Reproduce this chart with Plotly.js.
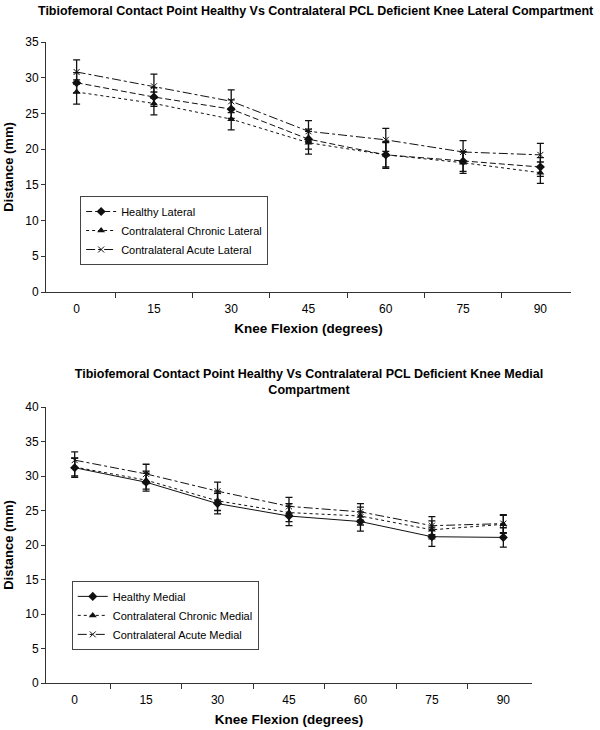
<!DOCTYPE html>
<html>
<head>
<meta charset="utf-8">
<script src="https://cdn.plot.ly/plotly-3.0.1.min.js"></script>
<style>
  html, body { margin: 0; padding: 0; background: #fff; }
  #top { position: absolute; left: 0; top: 0; width: 600px; height: 365px; }
  #bottom { position: absolute; left: 0; top: 365px; width: 600px; height: 365px; }
</style>
</head>
<body>
<div id="top"></div>
<div id="bottom"></div>
<script>
// ---- Data ----
const angles = ['0', '15', '30', '45', '60', '75', '90'];

const latHealthy     = [29.3, 27.3, 25.6, 21.4, 19.2, 18.3, 17.5];
const latHealthyErr  = [1.4, 1.3, 1.3, 1.4, 1.7, 1.4, 1.3];
const latChronic     = [28.0, 26.4, 24.2, 20.9, 19.2, 18.1, 16.7];
const latChronicErr  = [1.7, 1.6, 1.5, 1.6, 1.9, 1.5, 1.5];
const latAcute       = [30.8, 28.8, 26.7, 22.5, 21.3, 19.6, 19.2];
const latAcuteErr    = [1.7, 1.7, 1.6, 1.5, 1.6, 1.6, 1.6];

const medHealthy     = [31.2, 29.1, 26.0, 24.2, 23.4, 21.2, 21.1];
const medHealthyErr  = [1.4, 1.3, 1.5, 1.4, 1.4, 1.4, 1.4];
const medChronic     = [31.3, 29.4, 26.4, 24.7, 24.2, 22.2, 23.0];
const medChronicErr  = [1.3, 1.3, 1.4, 1.3, 1.3, 1.3, 1.3];
const medAcute       = [32.3, 30.3, 27.8, 25.6, 24.8, 22.8, 23.1];
const medAcuteErr    = [1.2, 1.4, 1.3, 1.3, 1.2, 1.3, 1.3];

const labelsLat = ['Healthy Lateral', 'Contralateral Chronic Lateral', 'Contralateral Acute Lateral'];
const labelsMed = ['Healthy Medial', 'Contralateral Chronic Medial', 'Contralateral Acute Medial'];

const titleLat = 'Tibiofemoral Contact Point Healthy Vs Contralateral PCL Deficient Knee Lateral Compartment';
const titleMed = 'Tibiofemoral Contact Point Healthy Vs Contralateral PCL Deficient Knee Medial<br>Compartment';

// ---- Styles ----
const FONT = '"Liberation Sans", Arial, Helvetica, sans-serif';
const INK = '#111';

function trace(name, y, err, dash, symbol) {
  const isX = symbol.startsWith('x');
  return {
    type: 'scatter', mode: 'lines+markers', name: name,
    x: angles, y: y,
    line: { color: INK, width: 1, dash: dash },
    marker: {
      symbol: symbol, size: isX ? 6 : 7, color: INK,
      line: { color: INK, width: isX ? 1 : 0 }
    },
    error_y: { type: 'data', array: err, visible: true, color: INK, thickness: 1.3, width: 3.5 }
  };
}

function layout(title, titleY, ymax, margin, legX, legY, titleX) {
  return {
    width: 600, height: 365,
    paper_bgcolor: '#fff', plot_bgcolor: '#fff',
    font: { family: FONT, color: '#000', size: 12 },
    margin: margin,
    showlegend: true,
    title: {
      text: title, x: titleX, xanchor: 'center', xref: 'container',
      y: titleY, yref: 'container', yanchor: 'middle',
      font: { family: FONT, size: 12.5, color: '#000', weight: 'bold' }
    },
    xaxis: {
      type: 'category', categoryorder: 'array', categoryarray: angles,
      tickson: 'boundaries', ticks: 'outside', ticklen: 5, tickwidth: 1, tickcolor: '#333',
      showline: true, linecolor: '#333', linewidth: 1,
      showgrid: false, zeroline: false, ticklabelstandoff: 6,
      tickfont: { family: FONT, size: 12, color: '#000' },
      title: { text: 'Knee Flexion (degrees)', standoff: 8,
               font: { family: FONT, size: 13.5, color: '#000', weight: 'bold' } }
    },
    yaxis: {
      range: [0, ymax], dtick: 5, tick0: 0,
      ticks: 'outside', ticklen: 4, tickwidth: 1, tickcolor: '#333',
      showline: true, linecolor: '#333', linewidth: 1,
      showgrid: false, zeroline: false,
      tickfont: { family: FONT, size: 12, color: '#000' },
      title: { text: 'Distance (mm)', standoff: 8,
               font: { family: FONT, size: 13, color: '#000', weight: 'bold' } }
    },
    legend: {
      x: legX, y: legY, xanchor: 'left', yanchor: 'top',
      bgcolor: '#fff', bordercolor: '#444', borderwidth: 1,
      font: { family: FONT, size: 11, color: '#000' },
      itemwidth: 30, tracegroupgap: 0
    }
  };
}

const cfg = { displayModeBar: false, staticPlot: true };

Plotly.newPlot('top', [
  trace(labelsLat[0], latHealthy, latHealthyErr, '6px,3px', 'diamond'),
  trace(labelsLat[1], latChronic, latChronicErr, 'dot', 'triangle-up'),
  trace(labelsLat[2], latAcute, latAcuteErr, 'dashdot', 'x-thin-open')
], layout(titleLat, 1 - 11 / 365, 35, { l: 46, r: 29, t: 42, b: 73 }, 0.065, 0.384, 0.526), cfg);

Plotly.newPlot('bottom', [
  trace(labelsMed[0], medHealthy, medHealthyErr, 'solid', 'diamond'),
  trace(labelsMed[1], medChronic, medChronicErr, 'dot', 'triangle-up'),
  trace(labelsMed[2], medAcute, medAcuteErr, 'dashdot', 'x-thin-open')
], layout(titleMed, 1 - 13 / 365, 40, { l: 46, r: 68, t: 42, b: 47 }, 0.053, 0.37, 0.515), cfg);
</script>
</body>
</html>
